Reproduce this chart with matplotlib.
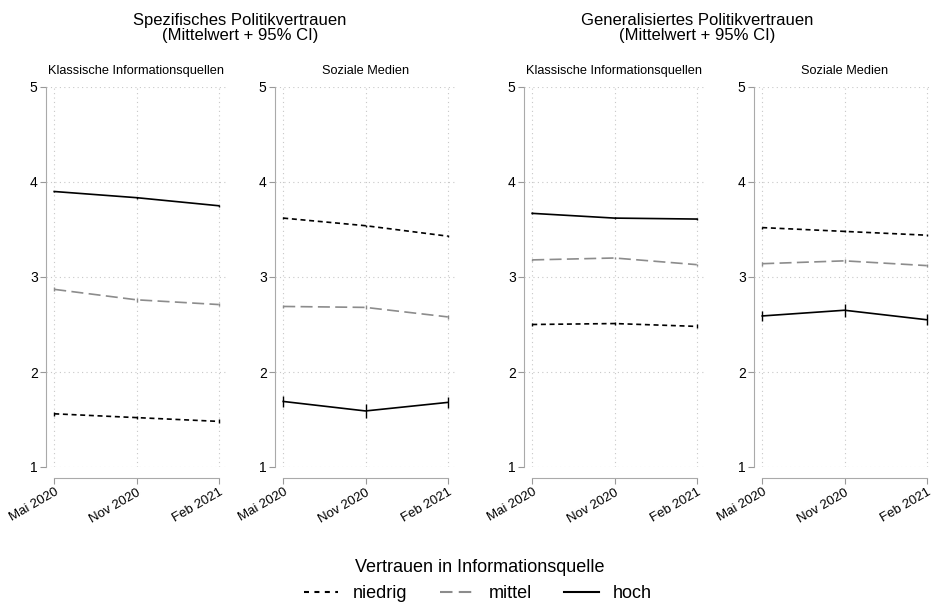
import numpy as np
import matplotlib; matplotlib.use("Agg"); import matplotlib.pyplot as plt
from matplotlib.lines import Line2D
plt.rcParams.update({"font.family": ["Liberation Sans", "DejaVu Sans"], "font.size": 9})

WAVES  = ["Mai 2020", "Nov 2020", "Feb 2021"]
LEVELS = ["niedrig", "mittel", "hoch"]

# means per panel (order: niedrig, mittel, hoch) and 95% CI half widths
spez_klass  = [[1.56, 1.52, 1.48], [2.87, 2.76, 2.71], [3.90, 3.835, 3.75]]
spez_klass_ci = [[0.02, 0.02, 0.02], [0.02, 0.02, 0.02], [0.01, 0.01, 0.01]]
spez_sozial = [[3.62, 3.54, 3.43], [2.69, 2.68, 2.58], [1.69, 1.59, 1.68]]
spez_sozial_ci = [[0.01, 0.01, 0.01], [0.02, 0.02, 0.02], [0.055, 0.07, 0.06]]
gen_klass   = [[2.50, 2.51, 2.48], [3.18, 3.20, 3.13], [3.67, 3.62, 3.61]]
gen_klass_ci = [[0.02, 0.02, 0.02], [0.01, 0.01, 0.01], [0.01, 0.01, 0.01]]
gen_sozial  = [[3.52, 3.48, 3.44], [3.14, 3.17, 3.12], [2.59, 2.65, 2.55]]
gen_sozial_ci = [[0.01, 0.01, 0.01], [0.02, 0.02, 0.02], [0.05, 0.07, 0.06]]

PANELS = [("Klassische Informationsquellen", spez_klass, spez_klass_ci, 46),
          ("Soziale Medien", spez_sozial, spez_sozial_ci, 275),
          ("Klassische Informationsquellen", gen_klass, gen_klass_ci, 524),
          ("Soziale Medien", gen_sozial, gen_sozial_ci, 754)]

COLOR  = {"niedrig": "black", "mittel": "#8c8c8c", "hoch": "black"}
DASHES = {"niedrig": (3.0, 2.2), "mittel": (7.2, 3.2), "hoch": None}       # in the panels (lw 1.2)
LDASH  = {"niedrig": (2.4, 2.6), "mittel": (6.0, 3.0), "hoch": None}       # legend keys (lw 1.5)

W, H = 932, 606
fig = plt.figure(figsize=(W / 100, H / 100), dpi=100)
x = np.arange(len(WAVES))
for title, means, cis, left in PANELS:
    ax = fig.add_axes([left / W, (H - 467) / H, 181 / W, 380 / H])
    for lev, m, c in zip(LEVELS, means, cis):
        ax.errorbar(x, m, yerr=c, capsize=0, elinewidth=1.0, ecolor=COLOR[lev], ls="none")
        ln, = ax.plot(x, m, color=COLOR[lev], lw=1.2)
        if DASHES[lev]: ln.set_dashes(DASHES[lev])
    ax.set_xlim(-0.1, 2.1); ax.set_ylim(1, 5)
    for s in ("top", "right"): ax.spines[s].set_visible(False)
    for s in ("left", "bottom"): ax.spines[s].set_color("#aaaaaa")
    ax.spines["bottom"].set_bounds(0, 2); ax.spines["bottom"].set_position(("outward", 8))
    ax.spines["left"].set_bounds(1, 5)
    # spine repositioning rebuilds ticks, so style them afterwards
    ax.set_yticks([1, 2, 3, 4, 5])
    ax.tick_params(colors="#999999", labelcolor="black", length=4, labelsize=10)
    ax.tick_params(axis="y", pad=2)
    ax.tick_params(axis="x", labelrotation=30, labelsize=9.5, pad=2)
    ax.set_xticks(x)
    ax.set_xticklabels(WAVES)
    for lab in ax.get_xticklabels():
        lab.set_ha("right"); lab.set_rotation_mode("anchor")
    ax.grid(True, ls=(0, (1, 3)), color="#c8c8c8", lw=0.8)
    ax.set_title(title, fontsize=9.2, pad=9)

fig.text(240 / W, 1 - 28 / H, "Spezifisches Politikvertrauen\n(Mittelwert + 95% CI)",
         ha="center", va="center", fontsize=12, linespacing=0.95)
fig.text(697 / W, 1 - 28 / H, "Generalisiertes Politikvertrauen\n(Mittelwert + 95% CI)",
         ha="center", va="center", fontsize=12, linespacing=0.95)

handles = []
for lev in LEVELS:
    h = Line2D([], [], color=COLOR[lev], lw=1.5)
    if LDASH[lev]: h.set_dashes(LDASH[lev])
    handles.append(h)
fig.text(480 / W, 1 - 567 / H, "Vertrauen in Informationsquelle", ha="center",
         va="center", fontsize=13)
fig.legend(handles, LEVELS, ncol=3, loc="center", bbox_to_anchor=(478 / W, 1 - 594 / H),
           frameon=False, fontsize=13, handlelength=1.9, columnspacing=1.8,
           handletextpad=0.8, borderpad=0.1)
fig.savefig("out.png", dpi=100)
